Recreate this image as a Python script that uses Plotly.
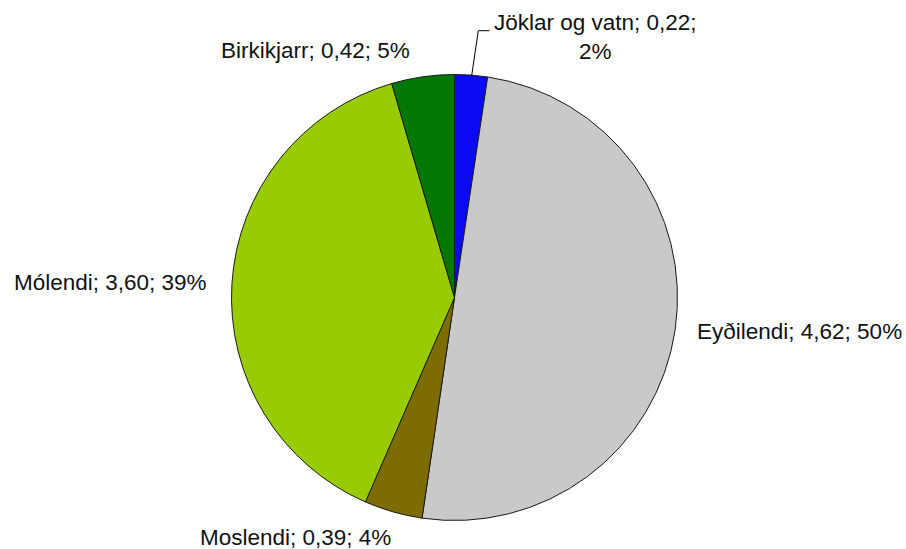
import plotly.graph_objects as go

categories = ["Jöklar og vatn", "Eyðilendi", "Moslendi", "Mólendi", "Birkikjarr"]
values = [0.22, 4.62, 0.39, 3.60, 0.42]
colors = ["#0A0AF5", "#C9C9C9", "#7C6C02", "#99CC00", "#007800"]

# label placement (screen px): x, y, xanchor, line-break flag
label_pos = [
    (491.5, 37.0, "left", True),
    (695.0, 331.0, "left", False),
    (295.5, 537.5, "center", False),
    (209.0, 282.0, "right", False),
    (412.0, 51.0, "right", False),
]

W, H = 906, 549


def px(x, y):
    return x / W, 1 - y / H


total = sum(values)
annotations = []
for cat, v, (x, y, xa, brk) in zip(categories, values, label_pos):
    val = f"{v:.2f}".replace(".", ",")
    pct = f"{round(v / total * 100):d}%"
    sep = ";<br>" if brk else "; "
    text = f"{cat}; {val}{sep}{pct}"
    xp, yp = px(x, y)
    annotations.append(dict(
        x=xp, y=yp, xref="paper", yref="paper", text=text, showarrow=False,
        xanchor=xa, yanchor="middle", align="center",
        font=dict(family="Liberation Sans, Arial, sans-serif", size=22.5, color="#111111"),
    ))

# pie placement (screen px)
cx, cy, r = 454.5, 297.5, 223
x0, _ = px(cx - r, 0)
x1, _ = px(cx + r, 0)
_, ytop = px(0, cy - r)
_, ybot = px(0, cy + r)

fig = go.Figure(go.Pie(
    labels=categories,
    values=values,
    sort=False,
    direction="clockwise",
    rotation=0,
    marker=dict(colors=colors, line=dict(color="#1a1a1a", width=1)),
    textinfo="none",
    domain=dict(x=[x0, x1], y=[ybot, ytop]),
    showlegend=False,
    hoverinfo="label+value+percent",
))

# leader line for the small top slice
p1 = px(471.7, 75.5)
p2 = px(478.3, 30.7)
p3 = px(489.5, 30.7)
fig.add_shape(
    type="path", xref="paper", yref="paper",
    path=f"M {p1[0]},{p1[1]} L {p2[0]},{p2[1]} L {p3[0]},{p3[1]}",
    line=dict(color="#000000", width=1),
)

fig.update_layout(
    width=W, height=H,
    margin=dict(l=0, r=0, t=0, b=0),
    paper_bgcolor="white",
    plot_bgcolor="white",
    separators=",.",
    annotations=annotations,
)

fig.write_html(
    "out.html",
    config={"displayModeBar": False},
    post_script="document.body.style.margin='0';document.body.style.overflow='hidden';",
)
